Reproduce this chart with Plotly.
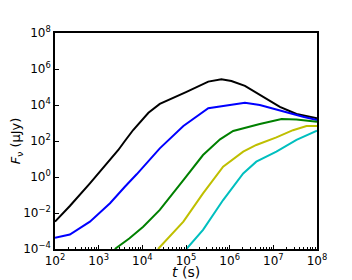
import numpy as np
import plotly.graph_objects as go

# log10(t / s) and log10(F / uJy)
black_logt = [2.0, 2.34, 2.8, 3.26, 3.45, 3.6, 3.79, 4.14, 4.4, 5.0, 5.51, 5.81, 6.04, 6.35, 6.77, 7.15, 7.53, 8.0]
black_logf = [-2.48, -1.61, -0.35, 0.94, 1.5, 2.0, 2.61, 3.57, 4.06, 4.72, 5.3, 5.43, 5.33, 5.06, 4.46, 3.9, 3.5, 3.26]

blue_logt = [2.0, 2.34, 2.8, 3.26, 3.6, 3.87, 4.4, 4.94, 5.51, 5.81, 6.35, 6.69, 7.22, 7.68, 8.0]
blue_logf = [-3.38, -3.2, -2.48, -1.46, -0.54, 0.15, 1.59, 2.83, 3.82, 3.94, 4.13, 4.0, 3.63, 3.35, 3.17]

green_logt = [3.37, 3.7, 4.02, 4.4, 4.94, 5.39, 5.78, 6.08, 6.69, 7.19, 7.53, 8.0]
green_logf = [-4.0, -3.42, -2.76, -1.83, -0.17, 1.22, 2.09, 2.56, 2.94, 3.22, 3.2, 3.07]

yellow_logt = [4.36, 4.94, 5.39, 5.85, 6.31, 6.61, 7.07, 7.45, 7.76, 8.0]
yellow_logf = [-4.0, -2.48, -0.91, 0.57, 1.41, 1.78, 2.2, 2.6, 2.83, 2.83]

cyan_logt = [5.01, 5.39, 5.85, 6.31, 6.61, 7.07, 7.53, 7.76, 8.0]
cyan_logf = [-4.0, -2.94, -1.28, 0.2, 0.85, 1.41, 2.06, 2.33, 2.57]

x_tick_exp = [2, 3, 4, 5, 6, 7, 8]
y_tick_exp = [-4, -2, 0, 2, 4, 6, 8]

series = [
    (black_logt, black_logf, "#000000"),
    (blue_logt, blue_logf, "#0000ff"),
    (green_logt, green_logf, "#008000"),
    (yellow_logt, yellow_logf, "#bfbf00"),
    (cyan_logt, cyan_logf, "#00bfbf"),
]

def lbl(e):
    return "10<sup>%s</sup>" % (str(e).replace("-", "\u2212"))

fig = go.Figure()
for lt, lf, col in series:
    fig.add_trace(go.Scatter(
        x=10 ** np.array(lt), y=10 ** np.array(lf), mode="lines",
        line=dict(color=col, width=2), showlegend=False,
    ))

font = "DejaVu Sans"
# page body has an 8px margin, so the figure is 344x272 and sits at (8, 8)
fig.update_layout(
    width=344, height=272,
    margin=dict(l=47, r=35, t=25, b=31, autoexpand=False),
    paper_bgcolor="white", plot_bgcolor="white",
    font=dict(family=font, size=12, color="black"),
    showlegend=False,
)
fig.add_annotation(
    text="<i>t</i> (s)", xref="paper", yref="paper", x=0.5, y=-0.105,
    xanchor="center", yanchor="middle", showarrow=False, font=dict(size=14),
)
fig.update_xaxes(
    type="log", range=[2, 8], automargin=False,
    tickvals=[10.0 ** e for e in x_tick_exp], ticktext=[lbl(e) for e in x_tick_exp],
    ticks="inside", ticklen=4, tickwidth=1, tickcolor="black",
    minor=dict(ticks="inside", ticklen=2, tickcolor="black", showgrid=False,
               tickvals=[m * 10.0 ** e for e in x_tick_exp[:-1] for m in range(2, 10)]),
    showline=True, linecolor="black", linewidth=1.5, mirror=True,
    showgrid=False, zeroline=False,
    tickfont=dict(size=12),
)
fig.update_yaxes(
    type="log", range=[-4, 8], automargin=False,
    tickvals=[10.0 ** e for e in y_tick_exp], ticktext=[lbl(e) for e in y_tick_exp],
    ticks="inside", ticklen=4, tickwidth=1, tickcolor="black",
    showline=True, linecolor="black", linewidth=1.5, mirror=True,
    showgrid=False, zeroline=False,
    tickfont=dict(size=12),
    title=dict(text="<i>F</i><sub>ν</sub> (μJy)", font=dict(size=13), standoff=2),
)
fig.write_html("out.html")
